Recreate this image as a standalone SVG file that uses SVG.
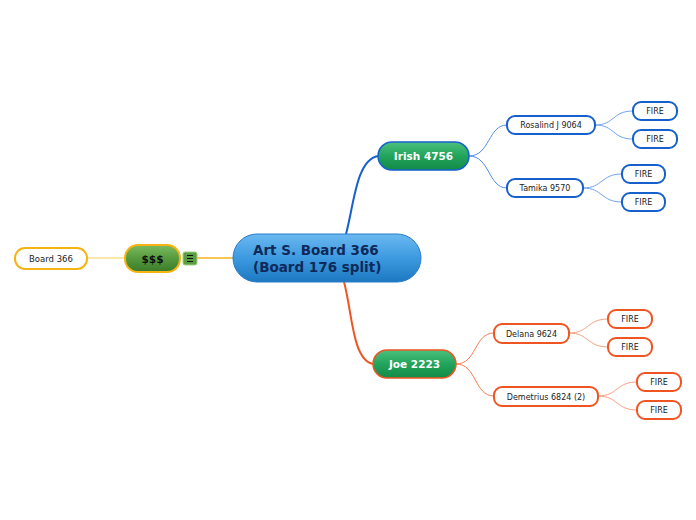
<svg xmlns="http://www.w3.org/2000/svg" width="696" height="520" viewBox="0 0 696 520">
<defs>
<linearGradient id="gBlue" x1="0" y1="0" x2="0" y2="1">
<stop offset="0" stop-color="#6ab8f0"/><stop offset="0.5" stop-color="#3d9ae0"/><stop offset="1" stop-color="#1c78c0"/>
</linearGradient>
<linearGradient id="gGreen" x1="0" y1="0" x2="0" y2="1">
<stop offset="0" stop-color="#4cc07e"/><stop offset="0.5" stop-color="#22a45c"/><stop offset="1" stop-color="#138a48"/>
</linearGradient>
<linearGradient id="gOlive" x1="0" y1="0" x2="0" y2="1">
<stop offset="0" stop-color="#7cbb5e"/><stop offset="0.5" stop-color="#569a3e"/><stop offset="1" stop-color="#3a7a2a"/>
</linearGradient>
<style>
.leaf{fill:#fff;stroke-width:2}
.b{stroke:#1560cc}
.o{stroke:#ef5523}
.y{stroke:#f5b414}
.t{font-family:"DejaVu Sans",Verdana,sans-serif;font-size:8px;fill:#222;text-anchor:middle}
.tb{font-family:"DejaVu Sans",Verdana,sans-serif;font-weight:bold;text-anchor:middle}
.c1{fill:none;stroke-width:1}
</style>
</defs>
<g id="connectors">
<path d="M87,258 H125" class="c1" stroke="#f7cc5a"/>
<path d="M197,258 H233" fill="none" stroke="#f5b414" stroke-width="1.5"/>
<path d="M346,234 C354,205 356,160 378,156" fill="none" stroke="#1560cc" stroke-width="2"/>
<path d="M344,282 C352,310 352,360 373,364" fill="none" stroke="#ef5523" stroke-width="2"/>
<path d="M469,156 C490,156 488,125 507,125" class="c1" stroke="#4d8ee6"/>
<path d="M469,156 C490,156 488,188 507,188" class="c1" stroke="#4d8ee6"/>
<path d="M595,125 C615,125 612,111 633,111" class="c1" stroke="#6ea3ec"/>
<path d="M595,125 C615,125 612,139 633,139" class="c1" stroke="#6ea3ec"/>
<path d="M583,188 C603,188 601,174 622,174" class="c1" stroke="#6ea3ec"/>
<path d="M583,188 C603,188 601,202 622,202" class="c1" stroke="#6ea3ec"/>
<path d="M456,364 C477,364 474,333 494,333" class="c1" stroke="#f27d55"/>
<path d="M456,364 C477,364 474,396 494,396" class="c1" stroke="#f27d55"/>
<path d="M569,333 C589,333 587,319 608,319" class="c1" stroke="#f5a080"/>
<path d="M569,333 C589,333 587,347 608,347" class="c1" stroke="#f5a080"/>
<path d="M598,396 C618,396 616,382 637,382" class="c1" stroke="#f5a080"/>
<path d="M598,396 C618,396 616,410 637,410" class="c1" stroke="#f5a080"/>
</g>
<g id="central">
<rect x="233" y="234" width="188" height="48" rx="24" fill="url(#gBlue)" stroke="#2a7ccc" stroke-width="1"/>
<text x="253" y="255" class="tb" style="text-anchor:start;font-size:13.5px;fill:#0f2a5a">Art S. Board 366</text>
<text x="253" y="272" class="tb" style="text-anchor:start;font-size:13.5px;fill:#0f2a5a">(Board 176 split)</text>
</g>
<g id="money">
<rect x="125" y="245" width="55" height="27" rx="13" fill="url(#gOlive)" stroke="#f5b414" stroke-width="2"/>
<text x="152.5" y="263" class="tb" style="font-size:10.5px;fill:#111">$$$</text>
</g>
<g id="note-icon">
<rect x="183" y="252" width="14" height="13" rx="2" fill="#5a9e44" stroke="#9ccf84" stroke-width="1"/>
<path d="M187,255.5 H193 M187,258.5 H193 M187,261.5 H193" stroke="#111" stroke-width="1"/>
</g>
<g id="board366">
<rect x="15" y="248" width="72" height="21" rx="10" class="leaf y"/>
<text x="51" y="261.5" class="t" style="font-size:8.5px">Board 366</text>
</g>
<g id="irish">
<rect x="378" y="142" width="91" height="28" rx="14" fill="url(#gGreen)" stroke="#1560cc" stroke-width="1.5"/>
<text x="423.5" y="160" class="tb" style="font-size:10.5px;fill:#fff">Irish 4756</text>
</g>
<g id="joe">
<rect x="373" y="350" width="83" height="28" rx="14" fill="url(#gGreen)" stroke="#ef5523" stroke-width="1.5"/>
<text x="414.5" y="368" class="tb" style="font-size:10.5px;fill:#fff">Joe 2223</text>
</g>
<g id="rosalind">
<rect x="507" y="116" width="88" height="18" rx="8" class="leaf b"/>
<text x="551" y="128" class="t">Rosalind J 9064</text>
</g>
<g id="tamika">
<rect x="507" y="179" width="76" height="18" rx="8" class="leaf b"/>
<text x="545" y="191" class="t">Tamika 9570</text>
</g>
<g id="fire1"><rect x="633" y="102" width="44" height="18" rx="8" class="leaf b"/><text x="655" y="114" class="t">FIRE</text></g>
<g id="fire2"><rect x="633" y="130" width="44" height="18" rx="8" class="leaf b"/><text x="655" y="142" class="t">FIRE</text></g>
<g id="fire3"><rect x="622" y="165" width="43" height="18" rx="8" class="leaf b"/><text x="643.5" y="177" class="t">FIRE</text></g>
<g id="fire4"><rect x="622" y="193" width="43" height="18" rx="8" class="leaf b"/><text x="643.5" y="205" class="t">FIRE</text></g>
<g id="delana">
<rect x="494" y="324" width="75" height="19" rx="8" class="leaf o"/>
<text x="531.5" y="336.5" class="t">Delana 9624</text>
</g>
<g id="demetrius">
<rect x="494" y="387" width="104" height="19" rx="8" class="leaf o"/>
<text x="546" y="399.5" class="t">Demetrius 6824 (2)</text>
</g>
<g id="fire5"><rect x="608" y="310" width="44" height="18" rx="8" class="leaf o"/><text x="630" y="322" class="t">FIRE</text></g>
<g id="fire6"><rect x="608" y="338" width="44" height="18" rx="8" class="leaf o"/><text x="630" y="350" class="t">FIRE</text></g>
<g id="fire7"><rect x="637" y="373" width="44" height="18" rx="8" class="leaf o"/><text x="659" y="385" class="t">FIRE</text></g>
<g id="fire8"><rect x="637" y="401" width="44" height="18" rx="8" class="leaf o"/><text x="659" y="413" class="t">FIRE</text></g>
</svg>
